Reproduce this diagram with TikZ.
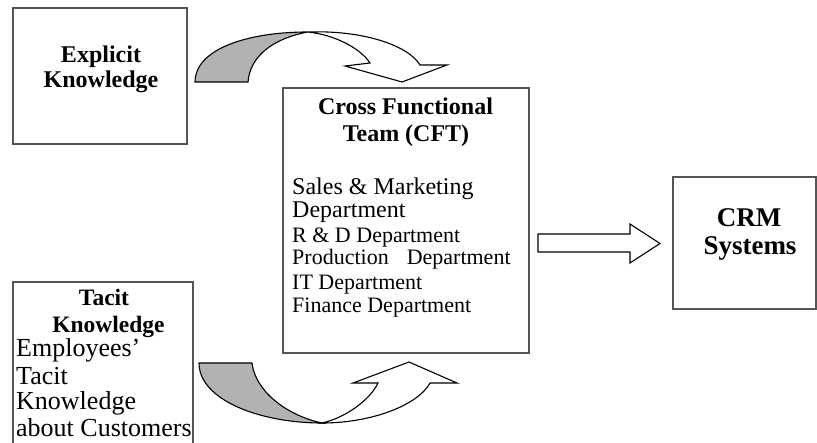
\documentclass[tikz,border=0pt]{standalone}
\usepackage{fontspec}
\setmainfont{Liberation Serif}
\begin{document}
\begin{tikzpicture}[x=1pt,y=-1pt,
  box/.style={draw=boxgray,line width=1.6pt,fill=white,minimum width=#1,inner sep=0pt},
  boldline/.style={anchor=base,inner sep=0pt,font=\fontsize{24}{26}\selectfont\bfseries},
  bodyline/.style={anchor=base west,inner sep=0pt,font=\fontsize{22}{24}\selectfont},
  bigbodyline/.style={bodyline,font=\fontsize{24}{26}\selectfont},
  tacitline/.style={anchor=base west,inner sep=0pt,font=\fontsize{26}{27}\selectfont},
  band/.style={draw=black,line width=1.1pt,fill=bandgray,line join=miter},
  front/.style={draw=black,line width=1.1pt,fill=white,line join=miter}]
\definecolor{boxgray}{RGB}{85,85,85}
\definecolor{bandgray}{RGB}{178,178,178}
\useasboundingbox (0,0) rectangle (817,443);

% boxes
\node[box=174pt,minimum height=136pt] (explicit) at (100,76) {};
\node[box=246pt,minimum height=265pt] (cft) at (406,220.5) {};
\node[box=143pt,minimum height=132pt] (crm) at (744.5,243) {};
\node[box=180pt,minimum height=190pt] (tacit) at (103,377) {};

% Explicit Knowledge
\node[boldline] (expA) at (101,63) {Explicit};
\node[boldline] (expB) at (101,88) {Knowledge};

% Cross Functional Team
\node[boldline] (cftA) at (405.5,115) {Cross Functional};
\node[boldline] (cftB) at (406,142) {Team (CFT)};
\node[bigbodyline] (dep1) at (292,195) {Sales \& Marketing};
\node[bigbodyline] (dep2) at (292,218) {Department};
\node[bodyline] (dep3) at (292,243) {R \& D Department};
\node[bodyline] (dep4) at (292,265) {Production\hspace{18pt}Department};
\node[bodyline] (dep5) at (292,290) {IT Department};
\node[bodyline] (dep6) at (292,313) {Finance Department};

% CRM Systems
\node[boldline,font=\fontsize{27}{29}\selectfont\bfseries] (crmA) at (749,227) {CRM};
\node[boldline,font=\fontsize{27}{29}\selectfont\bfseries] (crmB) at (750,255) {Systems};

% Tacit Knowledge
\node[boldline,font=\fontsize{23.5}{25}\selectfont\bfseries] (tacA) at (104,306) {Tacit};
\node[boldline,font=\fontsize{23.5}{25}\selectfont\bfseries] (tacB) at (108.5,333) {Knowledge};
\node[tacitline] (tac1) at (16,357) {Employees’};
\node[tacitline] (tac2) at (16,385) {Tacit};
\node[tacitline] (tac3) at (16,410) {Knowledge};
\node[tacitline] (tac4) at (16,437) {about Customers};

% curved arrow from Explicit Knowledge down into the team
\path[band] (195,82) .. controls (195,50) and (245,32) .. (308,32)
  .. controls (275,38) and (250,55) .. (248,82) -- cycle;
\path[front] (308,32) .. controls (362,30) and (408,45) .. (420,65)
  -- (447,65) -- (402,82) -- (345,66) -- (370,63)
  .. controls (360,48) and (335,35) .. (308,32) -- cycle;

% curved arrow from Tacit Knowledge up into the team
\path[band] (199,363) .. controls (199,400) and (260,423) .. (322,423)
  .. controls (285,415) and (255,390) .. (252,363) -- cycle;
\path[front] (322,423) .. controls (372,423) and (418,405) .. (430,383)
  -- (457,383) -- (409,362) -- (353,383) -- (378,383)
  .. controls (370,400) and (345,418) .. (322,423) -- cycle;

% block arrow from the team to CRM Systems
\path[front] (538,234) -- (630,234) -- (630,224) -- (660,243.5)
  -- (630,263) -- (630,252) -- (538,252) -- cycle;
\end{tikzpicture}
\end{document}
